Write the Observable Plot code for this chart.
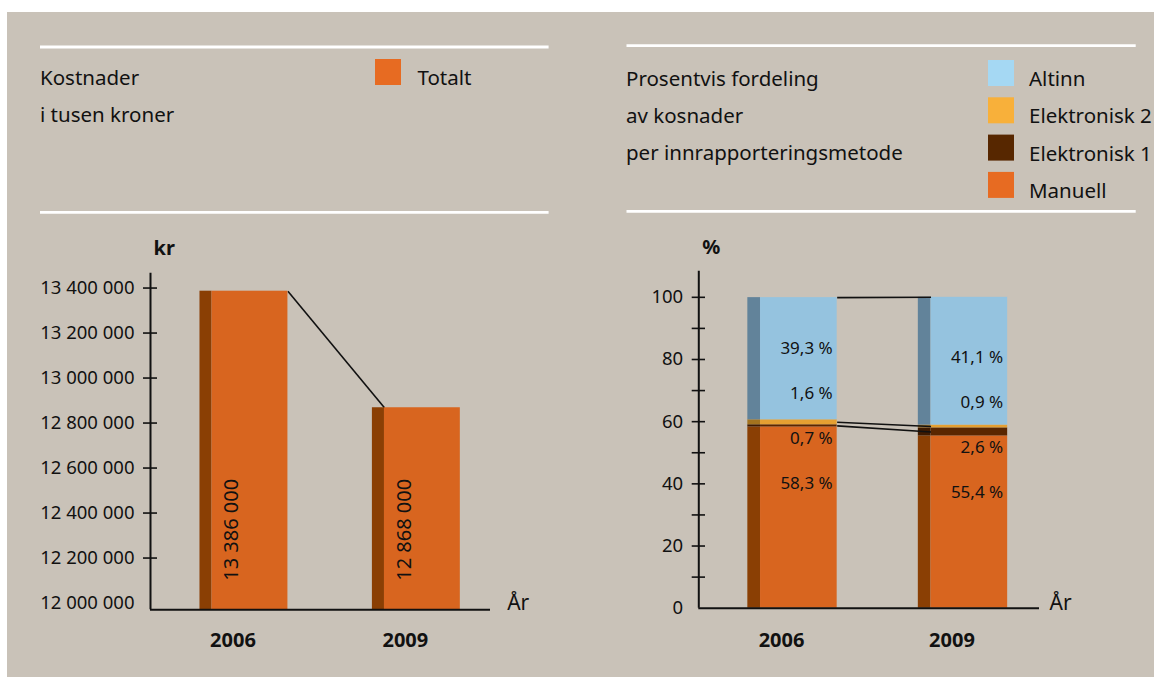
<!DOCTYPE html>
<html>
<head>
<meta charset="utf-8">
<script src="https://cdn.jsdelivr.net/npm/d3@7"></script>
<script src="https://cdn.jsdelivr.net/npm/@observablehq/plot@0.6"></script>
<style>
  html, body { margin: 0; padding: 0; background: #ffffff; }
  #root { position: relative; width: 1154px; height: 677px; overflow: hidden; font-family: "Noto Sans", sans-serif; }
  #bg { position: absolute; left: 7px; top: 12px; right: 0; bottom: 0; background: #c9c2b8; }
  #root > svg { position: absolute; top: 0; }
</style>
</head>
<body>
<div id="root"><div id="bg"></div></div>
<script>
// ---------- data ----------
const years = ["2006", "2009"];
const totals = [13386000, 12868000];             // kr
const kronerTicks = [12000000, 12200000, 12400000, 12600000, 12800000, 13000000, 13200000, 13400000];

const manuell = [58.3, 55.4];                    // %
const elektronisk1 = [0.7, 2.6];
const elektronisk2 = [1.6, 0.9];
const altinn = [39.3, 41.1];
const percentTicks = [0, 20, 40, 60, 80, 100];
const percentMinorTicks = [10, 20, 30, 40, 50, 60, 70, 80, 90, 100];

const leftTitle = ["Kostnader", "i tusen kroner"];
const rightTitle = ["Prosentvis fordeling", "av kosnader", "per innrapporteringsmetode"];
const legendLeft = ["Totalt"];
const legendRight = ["Altinn", "Elektronisk 2", "Elektronisk 1", "Manuell"];

// ---------- styles ----------
const ink = "#111111";
const faceColor = {Totalt: "#d8651f", Manuell: "#d8651f", "Elektronisk 1": "#5a2600", "Elektronisk 2": "#e5a032", Altinn: "#95c3df"};
const sideColor = {Totalt: "#8a3f04", Manuell: "#8a3f04", "Elektronisk 1": "#3e1a00", "Elektronisk 2": "#a3731f", Altinn: "#62839a"};
const swatchColor = {Totalt: "#e76b22", Manuell: "#e76b22", "Elektronisk 1": "#572700", "Elektronisk 2": "#f8b03a", Altinn: "#a5d8f3"};

const loc = d3.formatLocale({decimal: ",", thousands: " ", grouping: [3], currency: ["", ""]});
const fmtInt = loc.format(",d");
const fmtPct = v => loc.format(".1f")(v) + " %";

const root = document.getElementById("root");

// ---------- header (titles, legends, white rules) ----------
const hdr = d3.select(root).append("svg").attr("width", 1154).attr("height", 677).style("left", "0px");
[[40, 548.6, 47], [40, 548.6, 212.3], [626.5, 1135.7, 45.7], [626.5, 1135.7, 211.3]].forEach(([x1, x2, y]) =>
  hdr.append("line").attr("x1", x1).attr("x2", x2).attr("y1", y).attr("y2", y).attr("stroke", "#ffffff").attr("stroke-width", 2.8));
const hText = (x, y, t) => hdr.append("text").attr("x", x).attr("y", y).text(t)
  .attr("font-family", "Noto Sans").attr("font-size", 20.5).attr("fill", ink);
leftTitle.forEach((t, k) => hText(40, 85 + k * 36.5, t));
rightTitle.forEach((t, k) => hText(626, 86 + k * 36.8, t));
legendLeft.forEach((t, k) => {
  hdr.append("rect").attr("x", 375).attr("y", 59 + k * 37).attr("width", 26).attr("height", 26).attr("fill", swatchColor[t]);
  hText(417.5, 85 + k * 37, t);
});
legendRight.forEach((t, k) => {
  hdr.append("rect").attr("x", 988).attr("y", 60 + k * 37.3).attr("width", 26).attr("height", 26).attr("fill", swatchColor[t]);
  hText(1029, 86 + k * 37.3, t);
});

// ---------- left chart: totals ----------
const yMinK = 11970000, yMaxK = 13466000;
const xDomL = [-0.542, 1.43];
const hL = 0.255, sL = 0.07;   // half bar width and side depth, in x units
const totalRows = years.map((year, i) => ({i, year, value: totals[i]}));

const left = Plot.plot({
  width: 580, height: 677,
  marginLeft: 150, marginRight: 90, marginTop: 272.7, marginBottom: 67.7,
  style: {background: "transparent", fontFamily: "Noto Sans", fontSize: "18.5px", color: ink},
  x: {type: "linear", domain: xDomL, axis: null},
  y: {domain: [yMinK, yMaxK], axis: null},
  marks: [
    Plot.link([0], {x1: () => hL, y1: () => totals[0], x2: () => 1 - hL + sL, y2: () => totals[1], stroke: ink, strokeWidth: 1.6}),
    Plot.rect(totalRows, {x1: d => d.i - hL, x2: d => d.i - hL + sL, y1: () => yMinK, y2: "value", fill: sideColor.Totalt}),
    Plot.rect(totalRows, {x1: d => d.i - hL + sL, x2: d => d.i + hL, y1: () => yMinK, y2: "value", fill: faceColor.Totalt}),
    Plot.ruleY([yMinK], {stroke: ink, strokeWidth: 2}),
    Plot.ruleX([xDomL[0]], {stroke: ink, strokeWidth: 2}),
    Plot.axisY({ticks: kronerTicks.slice(1), tickSize: 14, dx: 7, tickFormat: () => "", label: null, stroke: ink, strokeWidth: 1.6}),
    Plot.axisY({ticks: kronerTicks, tickSize: 0, tickPadding: 16, tickFormat: fmtInt, label: null, fontSize: 18.5, fill: ink}),
    Plot.text(totalRows, {x: "i", frameAnchor: "bottom", lineAnchor: "middle", text: d => fmtInt(d.value), rotate: -90, textAnchor: "start", dx: -12, dy: -29, fontSize: 20, fill: ink}),
    Plot.text(totalRows, {x: "i", frameAnchor: "bottom", text: "year", lineAnchor: "top", dx: -11, dy: 23, fontWeight: "bold", fontSize: 20, fill: ink}),
    Plot.text(["kr"], {frameAnchor: "top-left", lineAnchor: "middle", dx: 3, dy: -24.7, fontWeight: "bold", fontSize: 20, fill: ink}),
    Plot.text(["År"], {frameAnchor: "bottom-right", lineAnchor: "middle", textAnchor: "start", dx: 16.7, dy: -6.3, fontSize: 21, fill: ink})
  ]
});
left.style.left = "0px";
root.appendChild(left);

// ---------- right chart: percentage shares ----------
const shareSeries = [
  {key: "Manuell", values: manuell},
  {key: "Elektronisk 1", values: elektronisk1},
  {key: "Elektronisk 2", values: elektronisk2},
  {key: "Altinn", values: altinn}
];
const segs = [];
years.forEach((year, i) => {
  let base = 0;
  shareSeries.forEach(s => {
    segs.push({i, key: s.key, y1: base, y2: base + s.values[i]});
    base += s.values[i];
  });
});
const segOf = (key, i) => segs.find(d => d.key === key && d.i === i);
const mid = d => (d.y1 + d.y2) / 2;
const topOf = i => d3.max(segs.filter(d => d.i === i), d => d.y2);

const xDomR = [-0.5496, 1.4487];
const hR = 0.262, sR = 0.0745;
const labelOrder = [
  {values: altinn, dy: -78},
  {values: elektronisk2, dy: -33},
  {values: elektronisk1, dy: 11.5},
  {values: manuell, dy: 56.5}
];
const connectors = [
  {y1: topOf(0), y2: topOf(1)},
  {y1: mid(segOf("Elektronisk 2", 0)), y2: mid(segOf("Elektronisk 2", 1))},
  {y1: mid(segOf("Elektronisk 1", 0)), y2: mid(segOf("Elektronisk 1", 1))}
];

const right = Plot.plot({
  width: 574, height: 677,
  marginLeft: 118.3, marginRight: 115, marginTop: 270.7, marginBottom: 69.3,
  style: {background: "transparent", fontFamily: "Noto Sans", fontSize: "18.5px", color: ink},
  x: {type: "linear", domain: xDomR, axis: null},
  y: {domain: [0, 108.4], axis: null},
  color: {type: "identity"},
  marks: [
    Plot.rect(segs, {x1: d => d.i - hR, x2: d => d.i - hR + sR, y1: "y1", y2: "y2", fill: d => sideColor[d.key]}),
    Plot.rect(segs, {x1: d => d.i - hR + sR, x2: d => d.i + hR, y1: "y1", y2: "y2", fill: d => faceColor[d.key]}),
    Plot.link(connectors, {x1: () => hR, x2: () => 1 - hR + sR, y1: "y1", y2: "y2", stroke: ink, strokeWidth: 1.6}),
    Plot.ruleY([0], {stroke: ink, strokeWidth: 2}),
    Plot.ruleX([xDomR[0]], {stroke: ink, strokeWidth: 2}),
    Plot.axisY({ticks: percentMinorTicks, tickSize: 13.3, dx: 6.7, tickFormat: () => "", label: null, stroke: ink, strokeWidth: 1.6}),
    Plot.axisY({ticks: percentTicks, tickSize: 0, tickPadding: 15.6, tickFormat: d => String(d), label: null, fontSize: 18.5, fill: ink}),
    ...labelOrder.map(L => Plot.text(years, {
      x: (d, i) => i + hR, y: (d, i) => manuell[i], text: (d, i) => fmtPct(L.values[i]),
      textAnchor: "end", dx: -4.5, dy: L.dy, fontSize: 17, fill: ink
    })),
    Plot.text(years, {x: (d, i) => i, frameAnchor: "bottom", text: d => d, lineAnchor: "top", dx: -11, dy: 25, fontWeight: "bold", fontSize: 20, fill: ink}),
    Plot.text(["%"], {frameAnchor: "top-left", lineAnchor: "middle", dx: 3.4, dy: -23.7, fontWeight: "bold", fontSize: 20, fill: ink}),
    Plot.text(["År"], {frameAnchor: "bottom-right", lineAnchor: "middle", textAnchor: "start", dx: 10, dy: -4.7, fontSize: 21, fill: ink})
  ]
});
right.style.left = "580px";
root.appendChild(right);
</script>
</body>
</html>
